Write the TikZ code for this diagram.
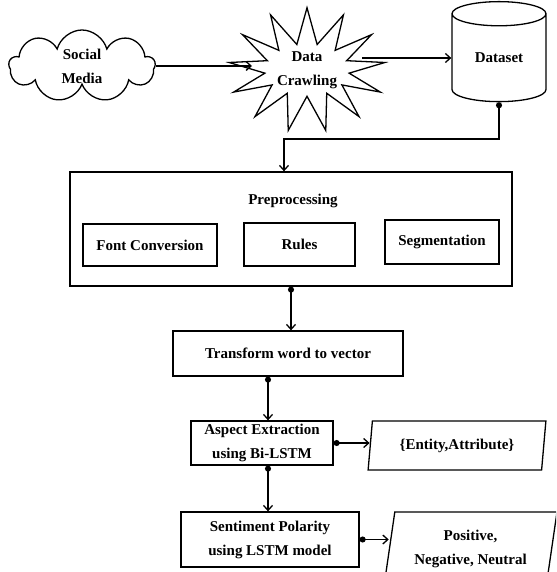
\documentclass[tikz,border=0pt]{standalone}
\usepackage{fontspec}
\setmainfont{Liberation Serif}
\usepackage{tikz}
\usetikzlibrary{arrows.meta,shapes.symbols,shapes.geometric}

\tikzset{
  txt/.style={font=\fontsize{15pt}{24pt}\selectfont\bfseries, align=center},
  box/.style={txt, draw, line width=1.3pt, rectangle, inner sep=0pt},
  para/.style={txt, draw, line width=1.3pt, trapezium, trapezium left angle=78,
    trapezium right angle=102, trapezium stretches=true, inner sep=0pt},
  link/.style={line width=1.3pt, arrows={-Straight Barb[length=5pt,width=9pt]}},
  dotlink/.style={line width=1.3pt, arrows={Circle[length=6pt]-Straight Barb[length=5pt,width=9pt]}}
}

\begin{document}
\begin{tikzpicture}[x=1pt, y=-1pt]
 \useasboundingbox (0,0) rectangle (556,572);
 \clip (0,0) rectangle (556,572);
 % top row
 \node [txt, draw, line width=1.3pt, cloud, cloud puffs=9, cloud ignores aspect,
   minimum width=146pt, minimum height=72pt, inner sep=0pt] (social) at (82,66) {Social\\Media};
 \node [txt, draw, line width=1.3pt, starburst, starburst points=13, starburst point height=36pt,
   random starburst=0, minimum width=122pt, minimum height=118pt, inner sep=0pt] (crawl) at (307,70) {Data\\Crawling};
 \node [txt, draw, line width=1.3pt, cylinder, shape border rotate=90, aspect=0.5,
   minimum width=94pt, minimum height=100pt, inner sep=0pt] (data) at (499,58) {Dataset};
 % preprocessing
 \node [box, minimum width=442pt, minimum height=114pt] (pre) at (291,229) {};
 \node [txt] (pretitle) at (293,201) {Preprocessing};
 \node [box, minimum width=134pt, minimum height=42pt] (font) at (150,245) {Font Conversion};
 \node [box, minimum width=111pt, minimum height=43pt] (rules) at (299.5,244.5) {Rules};
 \node [box, minimum width=114pt, minimum height=44pt] (seg) at (442,242) {Segmentation};
 % model
 \node [box, minimum width=230pt, minimum height=45pt] (vec) at (288,353.5) {Transform word to vector};
 \node [box, minimum width=142pt, minimum height=44pt] (aspect) at (262,443) {Aspect Extraction\\using Bi-LSTM};
 \node [para, minimum width=178pt, minimum height=49pt] (entity) at (457,445.5) {\{Entity,Attribute\}};
 \node [box, minimum width=178pt, minimum height=55pt] (polar) at (270,539.5) {Sentiment Polarity\\using LSTM model};
 \node [para, minimum width=173pt, minimum height=74pt] (result) at (470.5,549) {Positive,\\Negative, Neutral};
 \coordinate (spine) at (268,0);
 \coordinate (turn) at (284,139);
 % connectors
 \draw [link] (social.east) -- (social.east -| crawl.west);
 \draw [link] (data.west -| crawl.east) -- (data.west);
 \draw [dotlink] (data.south) |- (turn) -- (turn |- pre.north);
 \draw [dotlink] (pre.south) -- (pre.south |- vec.north);
 \draw [dotlink] (vec.south -| spine) -- (aspect.north -| spine);
 \draw [dotlink] (aspect.south -| spine) -- (polar.north -| spine);
 \draw [dotlink] (aspect.east) -- (aspect.east -| entity.west);
 \draw [dotlink] (polar.east) -- (polar.east -| result.west);
\end{tikzpicture}
\end{document}
